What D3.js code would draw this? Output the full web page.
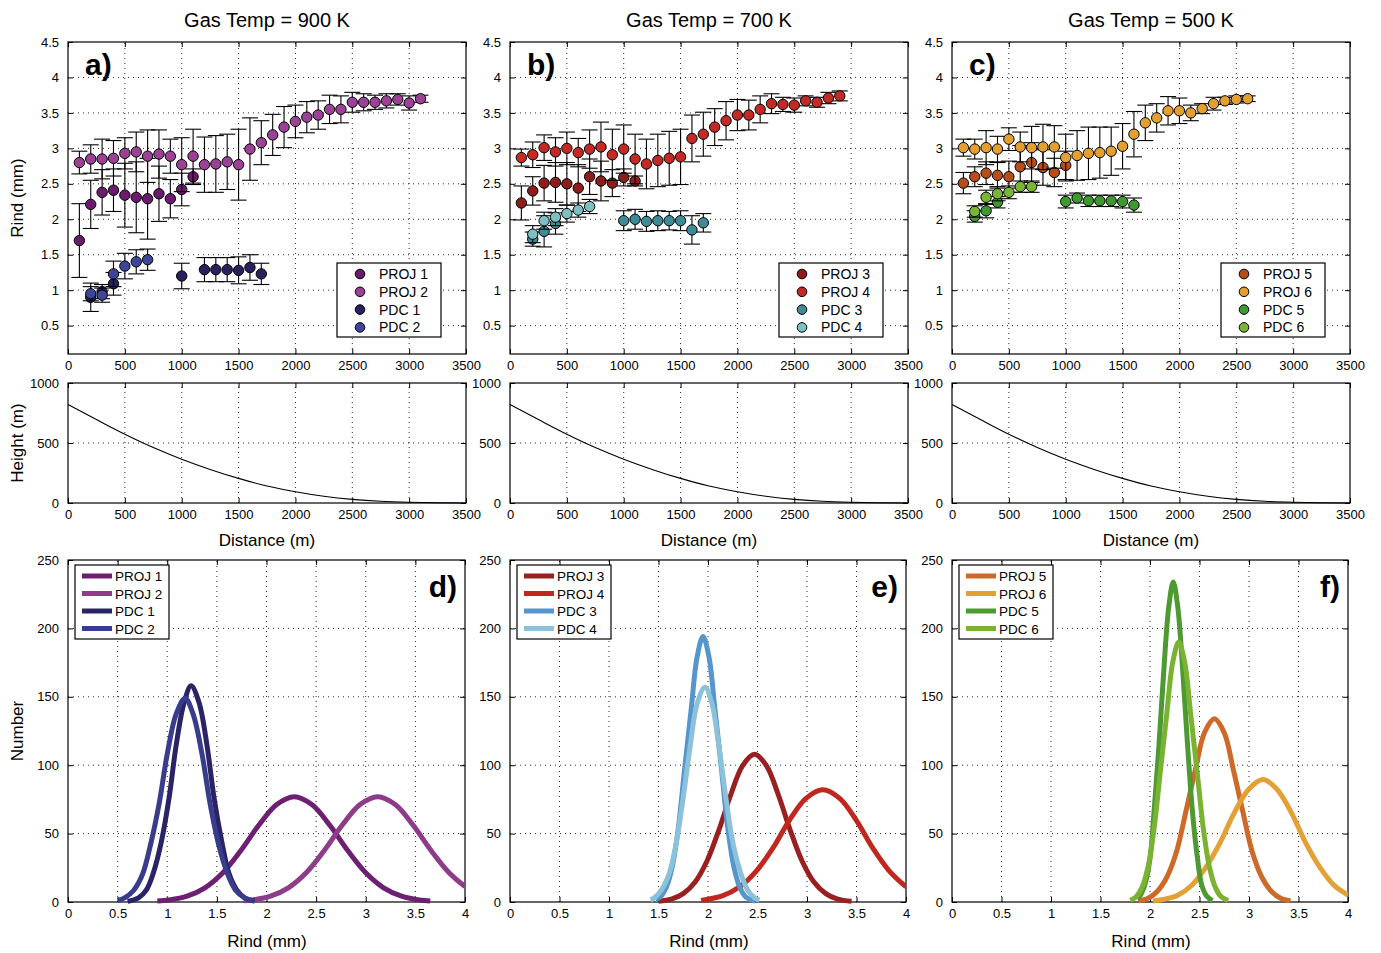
<!DOCTYPE html>
<html><head><meta charset="utf-8">
<script src="https://cdn.jsdelivr.net/npm/d3@7"></script>
<style>body{margin:0;background:#fff}svg{display:block}</style>
</head><body>
<script>
// ---------------- DATA ----------------
const titles = ["Gas Temp = 900 K", "Gas Temp = 700 K", "Gas Temp = 500 K"];
const topLetters = ["a)", "b)", "c)"];
const botLetters = ["d)", "e)", "f)"];
const distTicks = [0,500,1000,1500,2000,2500,3000,3500];
const rindTicks = [0.5,1,1.5,2,2.5,3,3.5,4,4.5];
const heightTicks = [0,500,1000];
const rindBinTicks = [0,0.5,1,1.5,2,2.5,3,3.5,4];
const numberTicks = [0,50,100,150,200,250];

// Panel a
const proj1_x = [100,200,300,400,500,600,700,800,900,1000,1100];
const proj1_y = [1.70,2.21,2.38,2.41,2.34,2.31,2.29,2.36,2.29,2.42,2.60];
const proj1_e = [0.52,0.34,0.32,0.30,0.45,0.50,0.57,0.39,0.27,0.23,0.11];
const proj2_x = [100,200,300,400,500,600,700,800,900,1000,1100,1200,1300,1400,1500,1600,1700,1800,1900,2000,2100,2200,2300,2400,2500,2600,2700,2800,2900,3000,3100];
const proj2_y = [2.80,2.85,2.85,2.86,2.93,2.95,2.89,2.92,2.89,2.77,2.89,2.77,2.78,2.81,2.77,2.99,3.08,3.19,3.30,3.38,3.44,3.47,3.55,3.55,3.65,3.65,3.65,3.67,3.69,3.64,3.70];
const proj2_e = [0.16,0.20,0.28,0.25,0.22,0.28,0.37,0.34,0.24,0.38,0.38,0.39,0.40,0.39,0.50,0.44,0.31,0.29,0.29,0.23,0.22,0.20,0.20,0.19,0.14,0.12,0.10,0.10,0.08,0.10,0.05];
const pdc1_x = [200,300,400,1000,1200,1300,1400,1500,1600,1700];
const pdc1_y = [0.90,0.98,1.09,1.20,1.29,1.29,1.29,1.28,1.32,1.23];
const pdc1_e = [0.20,0.10,0.16,0.18,0.17,0.17,0.17,0.19,0.18,0.15];
const pdc2_x = [200,300,400,500,600,700];
const pdc2_y = [0.95,0.93,1.23,1.34,1.40,1.43];
const pdc2_e = [0.10,0.10,0.18,0.18,0.17,0.15];
// Panel b
const proj3_x = [100,200,300,400,500,600,700,800,900,1000,1100];
const proj3_y = [2.23,2.40,2.51,2.52,2.50,2.44,2.60,2.54,2.51,2.59,2.54];
const proj3_e = [0.24,0.20,0.25,0.28,0.30,0.33,0.25,0.28,0.19,0.12,0.07];
const proj4_x = [100,200,300,400,500,600,700,800,900,1000,1100,1200,1300,1400,1500,1600,1700,1800,1900,2000,2100,2200,2300,2400,2500,2600,2700,2800,2900];
const proj4_y = [2.87,2.91,3.01,2.95,3.00,2.94,2.99,3.02,2.91,2.99,2.85,2.78,2.83,2.86,2.88,3.14,3.20,3.30,3.39,3.47,3.47,3.55,3.63,3.62,3.61,3.67,3.65,3.71,3.74];
const proj4_e = [0.12,0.18,0.18,0.20,0.23,0.20,0.27,0.35,0.36,0.34,0.35,0.35,0.37,0.38,0.39,0.33,0.31,0.26,0.27,0.22,0.21,0.19,0.14,0.10,0.10,0.07,0.07,0.08,0.07];
const pdc3_x = [200,300,400,1000,1100,1200,1300,1400,1500,1600,1700];
const pdc3_y = [1.72,1.83,1.94,1.98,2.00,1.97,1.98,1.98,1.98,1.85,1.95];
const pdc3_e = [0.10,0.22,0.15,0.14,0.14,0.14,0.14,0.13,0.14,0.20,0.13];
const pdc4_x = [200,300,400,500,600,700];
const pdc4_y = [1.79,1.98,2.03,2.08,2.13,2.18];
const pdc4_e = [0.12,0.12,0.12,0.12,0.10,0.10];
// Panel c
const proj5_x = [100,200,300,400,500,600,700,800,900,1000];
const proj5_y = [2.51,2.60,2.65,2.62,2.60,2.74,2.80,2.73,2.66,2.76];
const proj5_e = [0.15,0.14,0.16,0.18,0.22,0.30,0.28,0.25,0.20,0.20];
const proj6_x = [100,200,300,400,500,600,700,800,900,1000,1100,1200,1300,1400,1500,1600,1700,1800,1900,2000,2100,2200,2300,2400,2500,2600];
const proj6_y = [3.01,2.99,3.01,2.99,3.13,3.02,3.01,3.02,3.02,2.87,2.90,2.93,2.94,2.96,3.03,3.20,3.36,3.43,3.53,3.53,3.50,3.56,3.63,3.67,3.69,3.70];
const proj6_e = [0.12,0.14,0.24,0.18,0.16,0.21,0.30,0.32,0.30,0.33,0.35,0.37,0.36,0.34,0.32,0.32,0.25,0.20,0.20,0.18,0.11,0.07,0.09,0.05,0.05,0.04];
const pdc5_x = [200,300,400,1000,1100,1200,1300,1400,1500,1600];
const pdc5_y = [2.04,2.12,2.24,2.25,2.30,2.26,2.26,2.26,2.25,2.20];
const pdc5_e = [0.08,0.10,0.08,0.09,0.07,0.08,0.08,0.08,0.09,0.10];
const pdc6_x = [200,300,400,500,600,700];
const pdc6_y = [2.11,2.31,2.36,2.38,2.46,2.46];
const pdc6_e = [0.08,0.10,0.10,0.09,0.08,0.08];

// Flow height profile (same for all three)
const height_x = [0,250,500,750,1000,1250,1500,1750,2000,2250,2500,2750,3000,3250,3500];
const height_y = [820,695,573,462,365,280,205,142,94,56,30,14,6,2,0];

// Distributions (Rind mm vs Number)
const dP1_x = [0.90,1.02,1.20,1.38,1.56,1.74,1.92,2.10,2.28,2.46,2.64,2.82,3.00,3.18,3.36,3.54,3.65];
const dP1_y = [0.7,1.5,4.3,10.4,21.4,37.5,55.9,71.1,77,71.1,55.9,37.5,21.4,10.4,4.3,1.5,0.7];
const dP2_x = [1.77,1.86,2.04,2.22,2.40,2.58,2.76,2.94,3.12,3.30,3.48,3.66,3.84,4.00];
const dP2_y = [0.9,1.5,4.3,10.4,21.4,37.5,55.9,71.1,77,71.1,55.9,37.5,21.4,11.3];
const dD1_x = [0.60,0.71,0.79,0.86,0.94,1.02,1.09,1.17,1.24,1.32,1.40,1.47,1.55,1.62,1.70,1.78,1.88];
const dD1_y = [0.5,3.1,8.9,21.3,43.9,76.9,114.7,145.8,158,145.8,114.7,76.9,43.9,21.3,8.9,3.1,0.6];
const dD2_x = [0.50,0.57,0.66,0.75,0.83,0.92,1.00,1.09,1.18,1.26,1.35,1.43,1.52,1.61,1.69,1.78,1.88];
const dD2_y = [1.1,3.0,8.4,20.1,41.4,72.6,108.2,137.5,149,137.5,108.2,72.6,41.4,20.1,8.4,3.0,0.7];

const eP3_x = [1.50,1.63,1.75,1.87,1.99,2.11,2.23,2.35,2.47,2.59,2.71,2.83,2.95,3.07,3.19,3.31,3.45];
const eP3_y = [0.6,2.1,6.1,14.6,30.0,52.6,78.4,99.7,108,99.7,78.4,52.6,30.0,14.6,6.1,2.1,0.5];
const eP4_x = [1.93,2.15,2.32,2.49,2.66,2.82,2.99,3.16,3.33,3.50,3.66,3.83,4.00];
const eP4_y = [1.1,4.6,11.1,22.8,39.9,59.5,75.7,82,75.7,59.5,39.9,22.8,11.1];
const eD3_x = [1.47,1.52,1.58,1.64,1.70,1.76,1.83,1.89,1.95,2.01,2.07,2.14,2.20,2.26,2.32,2.38,2.48];
const eD3_y = [1.6,3.8,10.9,26.2,53.9,94.5,140.8,179.1,194,179.1,140.8,94.5,53.9,26.2,10.9,3.8,0.6];
const eD4_x = [1.42,1.46,1.53,1.61,1.68,1.75,1.82,1.89,1.97,2.04,2.11,2.18,2.25,2.33,2.40,2.47,2.52];
const eD4_y = [1.6,3.1,8.8,21.2,43.6,76.5,114.0,144.9,157,144.9,114.0,76.5,43.6,21.2,8.8,3.1,1.4];

const fP5_x = [1.88,1.98,2.07,2.17,2.27,2.36,2.46,2.55,2.65,2.75,2.84,2.94,3.03,3.13,3.23,3.32,3.42];
const fP5_y = [0.8,2.7,7.5,18.1,37.3,65.3,97.3,123.7,134,123.7,97.3,65.3,37.3,18.1,7.5,2.7,0.8];
const fP6_x = [2.03,2.13,2.28,2.42,2.56,2.71,2.85,3.00,3.14,3.28,3.43,3.57,3.72,3.86,4.00];
const fP6_y = [0.8,1.8,5.0,12.1,24.9,43.6,65.0,82.6,89.5,82.6,65.0,43.6,24.9,12.1,5.1];
const fD5_x = [1.87,1.90,1.95,2.00,2.04,2.09,2.14,2.19,2.235,2.28,2.33,2.38,2.43,2.48,2.52,2.57,2.63];
const fD5_y = [2.3,4.6,13.1,31.6,65.1,114.0,169.9,216.0,234,216.0,169.9,114.0,65.1,31.6,13.1,4.6,1.0];
const fD6_x = [1.80,1.86,1.92,1.98,2.04,2.10,2.17,2.23,2.29,2.35,2.41,2.48,2.54,2.60,2.66,2.72,2.79];
const fD6_y = [1.3,3.8,10.7,25.7,52.8,92.5,137.9,175.4,190,175.4,137.9,92.5,52.8,25.7,10.7,3.8,1.0];

const seriesNames = [["PROJ 1","PROJ 2","PDC 1","PDC 2"],["PROJ 3","PROJ 4","PDC 3","PDC 4"],["PROJ 5","PROJ 6","PDC 5","PDC 6"]];
const markerColors = [["#6b1a6e","#9b4196","#27215e","#3d4598"],["#8e1c1c","#c42a25","#3e8b98","#7cc0c2"],["#b84d1c","#e3a030","#3d9a2e","#79b634"]];
const lineColors = [["#6e1f72","#8e3b8a","#2a2466","#383c8c"],["#982020","#c0271f","#5597cc","#8bc1da"],["#cd6a2a","#e2a035","#4e9a32","#7ab232"]];

const scatterData = [
  [[proj1_x,proj1_y,proj1_e],[proj2_x,proj2_y,proj2_e],[pdc1_x,pdc1_y,pdc1_e],[pdc2_x,pdc2_y,pdc2_e]],
  [[proj3_x,proj3_y,proj3_e],[proj4_x,proj4_y,proj4_e],[pdc3_x,pdc3_y,pdc3_e],[pdc4_x,pdc4_y,pdc4_e]],
  [[proj5_x,proj5_y,proj5_e],[proj6_x,proj6_y,proj6_e],[pdc5_x,pdc5_y,pdc5_e],[pdc6_x,pdc6_y,pdc6_e]]
];
const distData = [
  [[dP1_x,dP1_y],[dP2_x,dP2_y],[dD1_x,dD1_y],[dD2_x,dD2_y]],
  [[eP3_x,eP3_y],[eP4_x,eP4_y],[eD3_x,eD3_y],[eD4_x,eD4_y]],
  [[fP5_x,fP5_y],[fP6_x,fP6_y],[fD5_x,fD5_y],[fD6_x,fD6_y]]
];

// ---------------- LAYOUT ----------------
const W = 1381, H = 953;
const FONT = "'Liberation Sans', Arial, Helvetica, sans-serif";
const lefts = [68, 510, 952];
const PW = 398;
const top1 = [42, 354], top2 = [383, 503], top3 = [560, 902];

const svg = d3.select("body").append("svg").attr("width", W).attr("height", H)
  .style("font-family", FONT);

function frame(g, x, y, xt, yt, xfmt, yfmt) {
  const [x0, x1] = x.range(), [y0, y1] = y.range();
  const grid = g.append("g").attr("stroke", "#111").attr("stroke-width", 0.9).attr("stroke-dasharray", "1,4");
  xt.forEach(t => { const px = x(t); if (px > x0 + 1 && px < x1 - 1) grid.append("line").attr("x1", px).attr("x2", px).attr("y1", y0).attr("y2", y1); });
  yt.forEach(t => { const py = y(t); if (py < y0 - 1 && py > y1 + 1) grid.append("line").attr("x1", x0).attr("x2", x1).attr("y1", py).attr("y2", py); });
  const tickLen = 5;
  const ax = g.append("g").attr("transform", `translate(0,${y0})`)
    .call(d3.axisBottom(x).tickValues(xt).tickSize(-tickLen).tickPadding(7).tickFormat(xfmt));
  const axT = g.append("g").attr("transform", `translate(0,${y1})`)
    .call(d3.axisTop(x).tickValues(xt).tickSize(-tickLen).tickFormat(""));
  const ay = g.append("g").attr("transform", `translate(${x0},0)`)
    .call(d3.axisLeft(y).tickValues(yt).tickSize(-tickLen).tickPadding(9).tickFormat(yfmt));
  const ayR = g.append("g").attr("transform", `translate(${x1},0)`)
    .call(d3.axisRight(y).tickValues(yt).tickSize(-tickLen).tickFormat(""));
  [ax, axT, ay, ayR].forEach(a => {
    a.select(".domain").remove();
    a.selectAll("line").attr("stroke", "#000").attr("stroke-width", 1);
    a.selectAll("text").attr("font-size", 13).attr("fill", "#000").attr("font-family", FONT);
  });
  g.append("rect").attr("x", x0).attr("y", y1).attr("width", x1 - x0).attr("height", y0 - y1)
    .attr("fill", "none").attr("stroke", "#000").attr("stroke-width", 1.2);
}

for (let p = 0; p < 3; p++) {
  const L = lefts[p];
  svg.append("text").attr("x", L + PW / 2).attr("y", 27).attr("text-anchor", "middle")
    .attr("font-size", 20).text(titles[p]);

  // ---- Scatter panel ----
  const g1 = svg.append("g");
  const x1s = d3.scaleLinear().domain([0, 3500]).range([L, L + PW]);
  const y1s = d3.scaleLinear().domain([0.1, 4.5]).range([top1[1], top1[0]]);
  frame(g1, x1s, y1s, distTicks, rindTicks, d3.format("d"), d => d3.format("")(d));
  scatterData[p].forEach((s, si) => {
    const [xs, ys, es] = s;
    const pts = xs.map((xv, i) => ({x: xv, y: ys[i], e: es[i]}));
    const sg = g1.append("g");
    const eb = sg.append("g").attr("stroke", "#000").attr("stroke-width", 1.1);
    pts.forEach(d => {
      const px = x1s(d.x), pt = y1s(d.y + d.e), pb = y1s(d.y - d.e);
      eb.append("line").attr("x1", px).attr("x2", px).attr("y1", pt).attr("y2", pb);
      eb.append("line").attr("x1", px - 8).attr("x2", px + 8).attr("y1", pt).attr("y2", pt);
      eb.append("line").attr("x1", px - 8).attr("x2", px + 8).attr("y1", pb).attr("y2", pb);
    });
    sg.selectAll("circle").data(pts).join("circle")
      .attr("cx", d => x1s(d.x)).attr("cy", d => y1s(d.y)).attr("r", 5.2)
      .attr("fill", markerColors[p][si]).attr("stroke", "#000").attr("stroke-width", 1);
  });
  g1.append("text").attr("x", L + 17).attr("y", 75).attr("font-size", 30).attr("font-weight", "bold").text(topLetters[p]);
  const lgR = L + PW - 25, lgW = 104, lgT = 263, lgH = 74;
  const lg = g1.append("g");
  lg.append("rect").attr("x", lgR - lgW).attr("y", lgT).attr("width", lgW).attr("height", lgH)
    .attr("fill", "#fff").attr("stroke", "#000").attr("stroke-width", 1.2);
  seriesNames[p].forEach((n, i) => {
    const cy = lgT + 11 + i * 17.8;
    lg.append("circle").attr("cx", lgR - lgW + 23).attr("cy", cy).attr("r", 4.8)
      .attr("fill", markerColors[p][i]).attr("stroke", "#000").attr("stroke-width", 1);
    lg.append("text").attr("x", lgR - lgW + 42).attr("y", cy + 5).attr("font-size", 14).text(n);
  });

  // ---- Height panel ----
  const g2 = svg.append("g");
  const x2s = d3.scaleLinear().domain([0, 3500]).range([L, L + PW]);
  const y2s = d3.scaleLinear().domain([0, 1000]).range([top2[1], top2[0]]);
  frame(g2, x2s, y2s, distTicks, heightTicks, d3.format("d"), d3.format("d"));
  g2.append("path").datum(height_x.map((xv, i) => [xv, height_y[i]]))
    .attr("d", d3.line().x(d => x2s(d[0])).y(d => y2s(d[1])).curve(d3.curveMonotoneX))
    .attr("fill", "none").attr("stroke", "#000").attr("stroke-width", 1.1);
  svg.append("text").attr("x", L + PW / 2).attr("y", 546).attr("text-anchor", "middle")
    .attr("font-size", 17).text("Distance (m)");

  // ---- Distribution panel ----
  const g3 = svg.append("g");
  const x3s = d3.scaleLinear().domain([0, 4]).range([L, L + PW - (p === 0 ? 1 : 2)]);
  const y3s = d3.scaleLinear().domain([0, 250]).range([top3[1], top3[0]]);
  frame(g3, x3s, y3s, rindBinTicks, numberTicks, d => d3.format("")(d), d3.format("d"));
  const cid = "clip" + p;
  svg.append("clipPath").attr("id", cid).append("rect")
    .attr("x", x3s.range()[0]).attr("y", top3[0]).attr("width", x3s.range()[1] - x3s.range()[0]).attr("height", top3[1] - top3[0] + 3);
  const curves = g3.append("g").attr("clip-path", `url(#${cid})`);
  distData[p].forEach((s, si) => {
    const [xs, ys] = s;
    curves.append("path").datum(xs.map((xv, i) => [xv, ys[i]]))
      .attr("d", d3.line().x(d => x3s(d[0])).y(d => y3s(d[1])).curve(d3.curveCatmullRom.alpha(0.5)))
      .attr("fill", "none").attr("stroke", lineColors[p][si]).attr("stroke-width", 5);
  });
  g3.append("text").attr("x", x3s.range()[1] - 8).attr("y", 597).attr("text-anchor", "end")
    .attr("font-size", 30).attr("font-weight", "bold").text(botLetters[p]);
  const bl = g3.append("g");
  const bx = L + 7, by = 565;
  bl.append("rect").attr("x", bx).attr("y", by).attr("width", 94).attr("height", 74)
    .attr("fill", "#fff").attr("stroke", "#000").attr("stroke-width", 1.2);
  seriesNames[p].forEach((n, i) => {
    const cy = by + 11 + i * 17.5;
    bl.append("line").attr("x1", bx + 7).attr("x2", bx + 37).attr("y1", cy).attr("y2", cy)
      .attr("stroke", lineColors[p][i]).attr("stroke-width", 5);
    bl.append("text").attr("x", bx + 40).attr("y", cy + 5).attr("font-size", 13.5).text(n);
  });
  svg.append("text").attr("x", L + PW / 2).attr("y", 947).attr("text-anchor", "middle")
    .attr("font-size", 17).text("Rind (mm)");
}

function ylab(txt, cy) {
  svg.append("text").attr("transform", `translate(23,${cy}) rotate(-90)`).attr("text-anchor", "middle")
    .attr("font-size", 17).text(txt);
}
ylab("Rind (mm)", 198);
ylab("Height (m)", 443);
ylab("Number", 731);
</script>
</body></html>
